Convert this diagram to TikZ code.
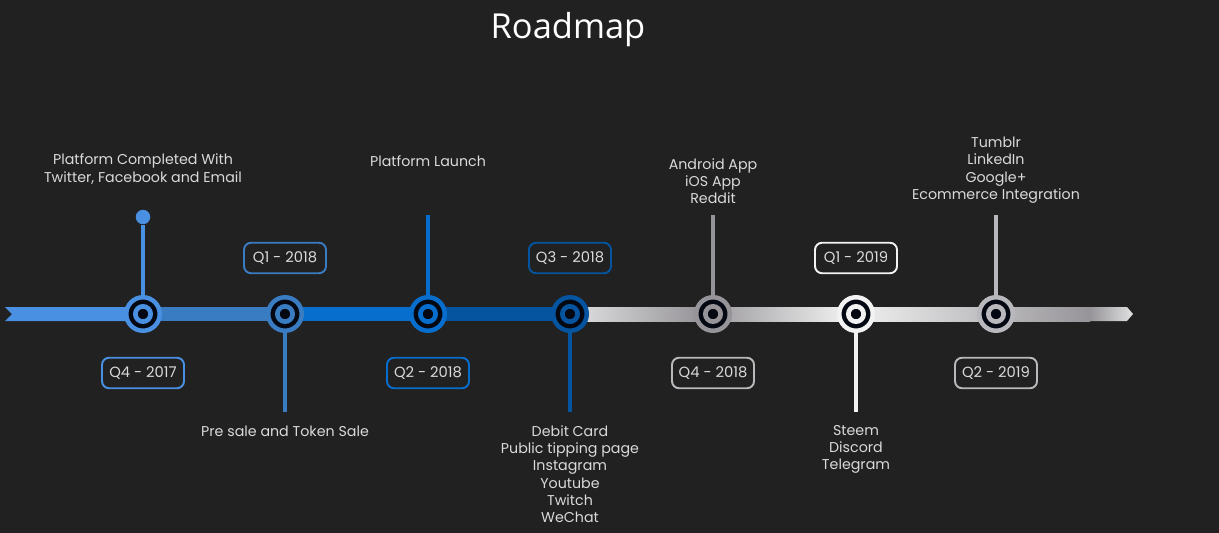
\documentclass[tikz,border=0pt]{standalone}
\usepackage{fontspec}
\setsansfont{Poppins}
\newfontfamily\titlefont{Open Sans}
\usetikzlibrary{positioning}
\definecolor{bg}{RGB}{33,33,33}
\definecolor{sky}{RGB}{74,144,226}
\definecolor{steel}{RGB}{58,124,194}
\definecolor{royal}{RGB}{8,110,206}
\definecolor{navy}{RGB}{4,84,160}
\definecolor{silverA}{RGB}{150,148,152}
\definecolor{silverB}{RGB}{242,242,242}
\definecolor{silverC}{RGB}{185,184,188}
\definecolor{silverD}{RGB}{225,225,226}
\definecolor{core}{RGB}{3,8,18}
\definecolor{ink}{RGB}{218,218,218}

\begin{document}
\begin{tikzpicture}[
    x=0.02cm, y=-0.02cm,
    font=\sffamily,
    milestone/.style={circle, draw=#1, fill=core, line width=2.55pt, minimum size=0.67cm, inner sep=0pt,
      path picture={\draw[#1, line width=2.65pt] (path picture bounding box.center) circle (0.153cm);}},
    stem/.style={draw=#1, line width=2.8pt},
    dot/.style={circle, fill=#1, minimum size=0.29cm, inner sep=0pt},
    datebox/.style={draw=#1, rounded corners=4pt, line width=1.1pt, minimum width=1.64cm, minimum height=0.61cm,
      inner sep=0pt, text=ink, font=\sffamily\fontsize{8.4}{10}\selectfont},
    note/.style={text=ink, align=center, inner sep=0pt, font=\sffamily\fontsize{8.1}{9.86}\selectfont}
  ]
    % Background and title
    \fill[bg] (0,0) rectangle (1219,533);
    \node[text=white, font=\titlefont\fontsize{19.6}{24}\selectfont] (title) at (568,30) {Roadmap};

    % Timeline bar
    \fill[sky] (5,307) -- (143,307) -- (143,321) -- (5,321) -- (12,314) -- cycle;
    \fill[steel] (143,307) rectangle (285,321);
    \fill[royal] (285,307) rectangle (428,321);
    \fill[navy] (428,307) rectangle (570,321);
    \shade[left color=silverD, right color=silverA] (570,307) rectangle (700,321);
    \shade[left color=silverA, right color=silverB] (700,307) rectangle (850,321);
    \shade[left color=silverB, right color=silverA] (850,307) rectangle (1090,321);
    \shade[left color=silverA, right color=silverD] (1090,307) -- (1127,307) -- (1133,314) -- (1127,321) -- (1090,321) -- cycle;

    % Milestones
    \node[milestone=sky] (m1) at (143,314) {};
    \node[milestone=steel] (m2) at (285,314) {};
    \node[milestone=royal] (m3) at (428,314) {};
    \node[milestone=navy] (m4) at (570,314) {};
    \node[milestone=silverA] (m5) at (713,314) {};
    \node[milestone=silverB] (m6) at (856,314) {};
    \node[milestone=silverC] (m7) at (996,314) {};

    % Stems
    \node[dot=sky] (t1) at (143,217) {};
    \draw[stem=sky] (m1) -- (t1);
    \coordinate (t2) at (285,412);
    \draw[stem=steel] (m2) -- (t2);
    \coordinate (t3) at (428,215);
    \draw[stem=royal] (m3) -- (t3);
    \coordinate (t4) at (570,412);
    \draw[stem=navy] (m4) -- (t4);
    \coordinate (t5) at (713,215);
    \draw[stem=silverA] (m5) -- (t5);
    \coordinate (t6) at (856,412);
    \draw[stem=silverB] (m6) -- (t6);
    \coordinate (t7) at (996,215);
    \draw[stem=silverC] (m7) -- (t7);

    % Quarters
    \node[datebox=sky] (d1) at (143,373) {Q4 - 2017};
    \node[datebox=steel] (d2) at (285,258) {Q1 - 2018};
    \node[datebox=royal] (d3) at (428,373) {Q2 - 2018};
    \node[datebox=navy] (d4) at (570,258) {Q3 - 2018};
    \node[datebox=silverC] (d5) at (713,373) {Q4 - 2018};
    \node[datebox=silverB] (d6) at (856,258) {Q1 - 2019};
    \node[datebox=silverC] (d7) at (996,373) {Q2 - 2019};

    % Goals
    \node[note] (n1) at (143,169) {Platform Completed With\\Twitter, Facebook and Email};
    \node[note] (n2) at (285,431) {Pre sale and Token Sale};
    \node[note] (n3) at (428,161) {Platform Launch};
    \node[note] (n4) at (570,474) {Debit Card\\Public tipping page\\Instagram\\Youtube\\Twitch\\WeChat};
    \node[note] (n5) at (713,181) {Android App\\iOS App\\Reddit};
    \node[note] (n6) at (856,449.5) {Steem\\Discord\\Telegram};
    \node[note] (n7) at (996,170) {Tumblr\\LinkedIn\\Google+\\Ecommerce Integration};
  \end{tikzpicture}
\end{document}
